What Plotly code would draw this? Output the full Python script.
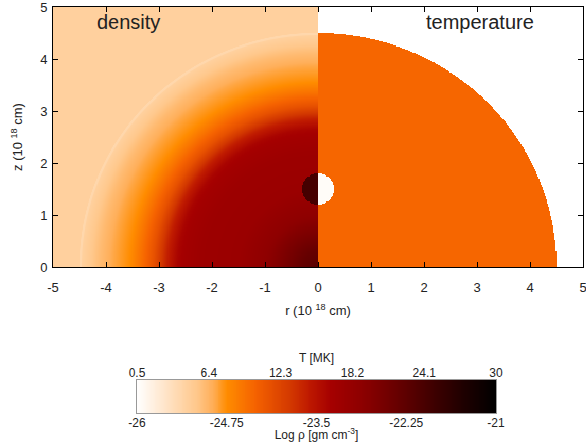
import numpy as np
import plotly.graph_objects as go

# ---- data ----
# radial profile of log density (r in 1e18 cm)
profile_r = [0.0, 0.3, 0.6, 1.0, 1.5, 2.2, 2.5, 2.65, 2.85, 3.1, 3.35, 3.55, 3.85, 4.1, 4.3, 4.45, 4.47, 4.5, 4.51, 8.0]
profile_logrho = [-22.2, -22.35, -22.6, -22.9, -23.1, -23.15, -23.25, -23.35, -23.65, -24.15,
                  -24.5, -24.75, -24.9, -25.05, -25.2, -25.3, -25.4, -25.4, -25.3, -25.3]
shell_radius = 4.5
T_shell = 10.0          # MK inside the hot bubble
source_center = [0.0, 1.5]
source_radius = 0.3
source_logrho = -21.95
source_T = 0.8

T_ticks = [0.5, 6.4, 12.3, 18.2, 24.1, 30]
rho_ticks = [-26, -24.75, -23.5, -22.25, -21]
x_ticks = [-5, -4, -3, -2, -1, 0, 1, 2, 3, 4, 5]
z_ticks = [0, 1, 2, 3, 4, 5]

cscale = [
    [0.0, 'rgb(255,255,255)'],
    [0.08, 'rgb(255,228,200)'],
    [0.165, 'rgb(255,200,140)'],
    [0.21, 'rgb(255,175,90)'],
    [0.25, 'rgb(255,140,0)'],
    [0.33, 'rgb(245,98,0)'],
    [0.43, 'rgb(210,55,0)'],
    [0.48, 'rgb(190,25,0)'],
    [0.54, 'rgb(165,0,0)'],
    [0.63, 'rgb(140,0,0)'],
    [0.72, 'rgb(105,0,0)'],
    [0.82, 'rgb(65,0,0)'],
    [0.91, 'rgb(30,0,0)'],
    [1.0, 'rgb(0,0,0)'],
]

# ---- build field tables ----
d = 0.02
xl = np.arange(-5 + d / 2, 0, d)
xr = np.arange(d / 2, 5, d)
yy = np.arange(d / 2, 5, d)

XL, YL = np.meshgrid(xl, yy)
RL = np.hypot(XL, YL)
rho = np.interp(RL, profile_r, profile_logrho)
in_src_l = np.hypot(XL - source_center[0], YL - source_center[1]) <= source_radius
rho[in_src_l] = source_logrho

XR, YR = np.meshgrid(xr, yy)
RR = np.hypot(XR, YR)
T = np.where(RR <= shell_radius, T_shell, np.nan)
in_src_r = np.hypot(XR - source_center[0], YR - source_center[1]) <= source_radius
T[in_src_r] = source_T

fig = go.Figure()
fig.add_trace(go.Heatmap(x=xl, y=yy, z=rho, zmin=rho_ticks[0], zmax=rho_ticks[-1],
                         colorscale=cscale, showscale=False, zsmooth=False, hoverinfo='skip'))
fig.add_trace(go.Heatmap(x=xr, y=yy, z=T, zmin=T_ticks[0], zmax=T_ticks[-1],
                         colorscale=cscale, showscale=False, zsmooth=False, hoverinfo='skip'))

# colour bar drawn as a heatmap on its own axes
cb = np.linspace(rho_ticks[0], rho_ticks[-1], 400)
fig.add_trace(go.Heatmap(x=cb, y=[0], z=[cb], zmin=rho_ticks[0], zmax=rho_ticks[-1],
                         colorscale=cscale, showscale=False, xaxis='x2', yaxis='y2',
                         hoverinfo='skip'))
fig.add_trace(go.Scatter(x=T_ticks, y=[0] * len(T_ticks), xaxis='x3', yaxis='y2',
                         mode='markers', marker=dict(opacity=0), hoverinfo='skip',
                         showlegend=False))

font = dict(family='Liberation Sans, Arial, sans-serif', color='#222')
W, H = 586, 442
mt = 7
ph = H - mt


def py(px):
    return (H - px) / ph


def pxf(px):
    return (px - 53) / 530


axis_common = dict(showgrid=False, zeroline=False, showline=True, linecolor='black',
                   linewidth=1, ticks='inside', ticklen=5, tickcolor='black', mirror='ticks',
                   tickfont=dict(size=13), ticklabeloverflow='allow')

fig.update_layout(
    width=W, height=H,
    margin=dict(l=53, r=3, t=mt, b=0, autoexpand=False),
    paper_bgcolor='white', plot_bgcolor='white',
    font=font, showlegend=False,
    xaxis=dict(axis_common, domain=[0, 1], range=[-5, 5], anchor='y',
               tickvals=x_ticks, ticktext=[str(v) for v in x_ticks],
               ticklabelstandoff=8,
               title=dict(text='r (10 <sup>18</sup> cm)', font=dict(size=13), standoff=12)),
    yaxis=dict(axis_common, domain=[py(267), 1], range=[0, 5], anchor='x',
               tickvals=z_ticks, ticktext=[str(v) for v in z_ticks],
               ticklabelstandoff=2,
               title=dict(text='z (10 <sup>18</sup> cm)', font=dict(size=13), standoff=14)),
    xaxis2=dict(domain=[pxf(137), pxf(496)], range=[rho_ticks[0], rho_ticks[-1]], anchor='y2',
                showgrid=False, zeroline=False, showline=True, mirror=True, linecolor='#999',
                ticks='', tickvals=rho_ticks, ticktext=[f'{v:g}' for v in rho_ticks],
                tickfont=dict(size=12), ticklabelstandoff=-1, ticklabeloverflow='allow',
                title=dict(text='Log ρ [gm cm<sup>-3</sup>]', font=dict(size=12), standoff=3)),
    xaxis3=dict(overlaying='x2', side='top', anchor='y2', range=[T_ticks[0], T_ticks[-1]],
                showgrid=False, zeroline=False, showline=False, ticks='',
                tickvals=T_ticks, ticktext=[f'{v:g}' for v in T_ticks],
                tickfont=dict(size=12), ticklabeloverflow='allow',
                title=dict(text='T [MK]', font=dict(size=12), standoff=0)),
    yaxis2=dict(domain=[py(413), py(380)], range=[-0.5, 0.5], anchor='x2',
                showgrid=False, zeroline=False, showline=True, mirror=True, linecolor='#999',
                showticklabels=False, ticks=''),
    annotations=[
        dict(text='density', x=-3.58, y=4.71, xref='x', yref='y', showarrow=False,
             font=dict(size=20, color='#222')),
        dict(text='temperature', x=3.06, y=4.71, xref='x', yref='y', showarrow=False,
             font=dict(size=20, color='#222')),
    ],
)

fig.write_html('out.html', config={'displayModeBar': False},
               post_script="document.body.style.margin='0px';")
